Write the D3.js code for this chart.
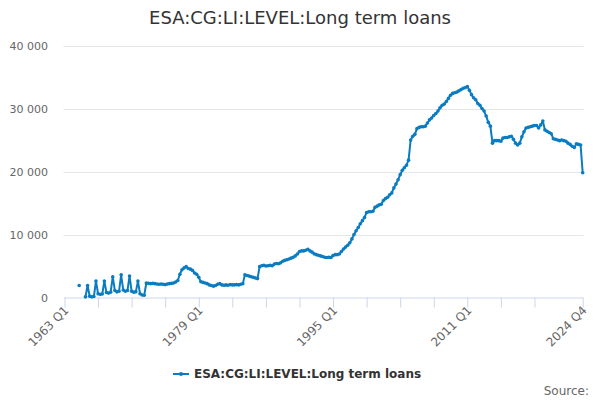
<!DOCTYPE html>
<html>
<head>
<meta charset="utf-8">
<script src="https://cdn.jsdelivr.net/npm/d3@7/dist/d3.min.js"></script>
<style>
  html, body { margin: 0; padding: 0; background: #ffffff; }
  svg { display: block; }
</style>
</head>
<body>
<svg id="chart" width="600" height="400"></svg>
<script>
// ---- Data ----
const seriesName = "ESA:CG:LI:LEVEL:Long term loans";
const titleText = "ESA:CG:LI:LEVEL:Long term loans";
const startYear = 1963;
const categories = d3.range(248).map(i => `${startYear + Math.floor(i / 4)} Q${(i % 4) + 1}`);
const values = [
  null, null, null, null, null, null, null, 1900, null, null,
  100, 1900, 200, 100, 150, 2600, 600, 500, 550, 2600,
  800, 700, 850, 3300, 1100, 900, 1000, 3600, 1200, 1000,
  1100, 3400, 1000, 850, 900, 2600, 600, 400, 350, 2300,
  2250, 2200, 2250, 2200, 2150, 2100, 2150, 2100, 2050, 2150,
  2200, 2250, 2300, 2450, 2700, 3700, 4400, 4700, 4900, 4600,
  4500, 4300, 3900, 3700, 3200, 2500, 2400, 2300, 2200, 2000,
  1900, 1800, 1900, 2100, 2200, 2000, 1950, 2000, 1950, 2050,
  2000, 2000, 2050, 2000, 2100, 2200, 3600, 3500, 3400, 3300,
  3200, 3100, 3000, 4900, 5050, 5100, 5000, 5050, 5100, 5050,
  5300, 5400, 5350, 5500, 5750, 5900, 6000, 6100, 6250, 6400,
  6600, 6900, 7300, 7400, 7400, 7500, 7650, 7400, 7200, 6950,
  6800, 6700, 6600, 6500, 6400, 6350, 6400, 6350, 6650, 6800,
  6800, 6900, 7300, 7700, 8000, 8300, 8700, 9300, 10000, 10600,
  11100, 11700, 12200, 12700, 13500, 13600, 13600, 13700, 14300, 14500,
  14700, 14800, 15400, 15700, 15900, 16300, 16600, 17400, 18000, 18700,
  19500, 20200, 20600, 21000, 21800, 25000, 25600, 25900, 26800, 27000,
  27100, 27100, 27200, 27700, 28200, 28500, 28900, 29200, 29600, 30100,
  30500, 30700, 31100, 31600, 32100, 32400, 32500, 32600, 32800, 33000,
  33200, 33300, 33500, 32900, 32200, 31700, 31400, 30800, 30500, 30000,
  29600, 28800, 27800, 27200, 24500, 24900, 24900, 24900, 24800, 25300,
  25400, 25400, 25500, 25600, 25100, 24500, 24200, 24500, 25500, 26300,
  26900, 27000, 27100, 27200, 27300, 27300, 26900, 27400, 28000, 26600,
  26400, 26200, 26000, 25200, 25100, 25000, 24900, 25000, 24900, 24800,
  24500, 24300, 24000, 23800, 24400, 24300, 24200, 19800
];
const yTicks = [0, 10000, 20000, 30000, 40000];
const xTickIdx = [0, 16, 32, 48, 64, 80, 96, 112, 128, 144, 160, 176, 192, 208, 224, 247];
const xLabelIdx = [0, 64, 128, 192, 247];
const sourceText = "Source:";

// ---- Layout ----
const svg = d3.select("#chart");
const color = "#0a7cc1";
const plotLeft = 64.5, plotRight = 582.7, plotTop = 45.5, plotBottom = 297.5;

const x = d3.scaleLinear().domain([0, values.length - 1]).range([plotLeft, plotRight]);
const y = d3.scaleLinear().domain([0, 40000]).range([plotBottom, plotTop]);

const fmt = v => d3.format(",")(v).replace(/,/g, " ");

// Title
svg.append("text")
  .attr("x", 300).attr("y", 24)
  .attr("text-anchor", "middle")
  .attr("font-family", "DejaVu Sans, sans-serif")
  .attr("font-size", 18)
  .attr("fill", "#333333")
  .text(titleText);

// Grid lines
svg.append("g").selectAll("line")
  .data(yTicks.filter(d => d > 0))
  .join("line")
  .attr("x1", plotLeft - 1).attr("x2", plotRight + 1)
  .attr("y1", d => Math.round(y(d)) + 0.5).attr("y2", d => Math.round(y(d)) + 0.5)
  .attr("stroke", "#e6e6e6").attr("stroke-width", 1);

// Y axis labels
const yAxis = d3.axisLeft(y).tickValues(yTicks).tickFormat(fmt).tickSize(0).tickPadding(0);
const gy = svg.append("g").attr("transform", `translate(48,0)`).call(yAxis);
gy.select(".domain").remove();
gy.selectAll("text")
  .attr("font-family", "DejaVu Sans, sans-serif")
  .attr("font-size", 11)
  .attr("fill", "#666666");

// X axis
const xAxis = d3.axisBottom(x).tickValues(xTickIdx).tickSize(10).tickFormat(() => "");
const gx = svg.append("g").attr("transform", `translate(0,${plotBottom})`).call(xAxis);
gx.select(".domain").attr("stroke", "#ccd6eb").attr("d", `M${plotLeft - 0.5},0.5H${plotRight + 0.5}`);
gx.selectAll(".tick line").attr("stroke", "#ccd6eb");

// X labels (rotated)
svg.append("g").selectAll("text")
  .data(xLabelIdx)
  .join("text")
  .attr("text-anchor", "end")
  .attr("transform", d => `translate(${x(d) + 5},${plotBottom + 13.5}) rotate(-45)`)
  .attr("font-family", "DejaVu Sans, sans-serif")
  .attr("font-size", 12)
  .attr("fill", "#666666")
  .text(d => categories[d]);

// Line
const pts = values.map((v, i) => ({ i, v }));
const line = d3.line()
  .defined(d => d.v !== null)
  .x(d => x(d.i))
  .y(d => y(d.v));

svg.append("path")
  .datum(pts)
  .attr("d", line)
  .attr("fill", "none")
  .attr("stroke", color)
  .attr("stroke-width", 2)
  .attr("stroke-linejoin", "round")
  .attr("stroke-linecap", "round");

svg.append("g").selectAll("circle")
  .data(pts.filter(d => d.v !== null))
  .join("circle")
  .attr("cx", d => x(d.i))
  .attr("cy", d => y(d.v))
  .attr("r", 1.8)
  .attr("fill", color);

// Legend
const lg = svg.append("g");
lg.append("line")
  .attr("x1", 173).attr("x2", 189).attr("y1", 374).attr("y2", 374)
  .attr("stroke", color).attr("stroke-width", 2);
lg.append("circle").attr("cx", 181).attr("cy", 374).attr("r", 2).attr("fill", color);
lg.append("text")
  .attr("x", 194).attr("y", 378)
  .attr("font-family", "DejaVu Sans, sans-serif")
  .attr("font-size", 12)
  .attr("font-weight", "bold")
  .attr("fill", "#333333")
  .text(seriesName);

// Source
svg.append("text")
  .attr("x", 589).attr("y", 395)
  .attr("text-anchor", "end")
  .attr("font-family", "DejaVu Sans, sans-serif")
  .attr("font-size", 12)
  .attr("fill", "#666666")
  .text(sourceText);
</script>
</body>
</html>
